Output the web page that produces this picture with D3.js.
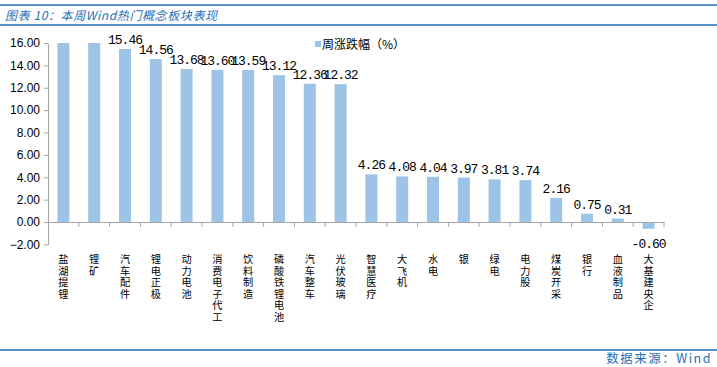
<!DOCTYPE html>
<html><head><meta charset="utf-8">
<script src="https://cdn.jsdelivr.net/npm/d3@7"></script>
<style>body{margin:0;background:#fff}svg{display:block}</style>
</head><body>
<svg id="c" width="717" height="367"></svg>
<script>
const categories = ["盐湖提锂","锂矿","汽车配件","锂电正极","动力电池","消费电子代工","饮料制造","磷酸铁锂电池","汽车整车","光伏玻璃","智慧医疗","大飞机","水电","银","绿电","电力股","煤炭开采","银行","血液制品","大基建央企"];
const values = [22.0, 18.0, 15.46, 14.56, 13.68, 13.60, 13.59, 13.12, 12.36, 12.32, 4.26, 4.08, 4.04, 3.97, 3.81, 3.74, 2.16, 0.75, 0.31, -0.60];
const yTicks = [-2, 0, 2, 4, 6, 8, 10, 12, 14, 16];
const seriesName = "周涨跌幅（%）";
const title = "图表 10：本周Wind热门概念板块表现";
const source = "数据来源：Wind";

const svg = d3.select("#c");
const blue = "#1f6fb9";
const barColor = "#9dc3e6";
const axisColor = "#a6a6a6";
const cjk = "'Noto Sans CJK SC', sans-serif";

// header lines & title
svg.append("line").attr("x1",0).attr("x2",717).attr("y1",5).attr("y2",5).attr("stroke",blue).attr("stroke-width",1.5);
svg.append("line").attr("x1",0).attr("x2",717).attr("y1",25).attr("y2",25).attr("stroke",blue).attr("stroke-width",1.5);
svg.append("text").attr("x",5).attr("y",19.5).text(title)
  .attr("fill",blue).attr("font-family",cjk).attr("font-size",12).attr("font-style","italic")
  .attr("letter-spacing",0.6);
svg.append("line").attr("x1",0).attr("x2",717).attr("y1",350).attr("y2",350).attr("stroke",blue).attr("stroke-width",1.5);
svg.append("text").attr("x",712).attr("y",363).attr("text-anchor","end").text(source)
  .attr("fill",blue).attr("font-family",cjk).attr("font-size",12.5).attr("letter-spacing",1.5);

const x0 = 48, x1 = 664;
const y = d3.scaleLinear().domain([-2,16]).range([244.4,43]).clamp(true);
const xb = d3.scaleBand().domain(categories).range([x0,x1]);

// y axis
const yAxis = d3.axisLeft(y).tickValues(yTicks).tickFormat(d3.format(".2f")).tickSize(4).tickSizeOuter(0);
const ga = svg.append("g").attr("transform",`translate(${x0},0)`).call(yAxis);
ga.select(".domain").attr("stroke",axisColor);
ga.selectAll(".tick line").attr("stroke",axisColor);
ga.selectAll(".tick text").attr("font-family","'Liberation Sans', Arial, sans-serif").attr("font-size",12).attr("fill","#000").attr("x",-8);

// bars
svg.append("g").selectAll("rect").data(values).join("rect")
  .attr("x",(d,i)=>xb(categories[i]) + xb.bandwidth()/2 - 6)
  .attr("width",12)
  .attr("y",d=>Math.min(y(d),y(0)))
  .attr("height",d=>Math.abs(y(d)-y(0)))
  .attr("fill",barColor);

// x axis line at 0 and ticks
const xAxis = d3.axisBottom(xb).tickValues([]).tickSizeOuter(0);
const gx = svg.append("g").attr("transform",`translate(0,${y(0)})`).call(xAxis);
gx.select(".domain").attr("stroke",axisColor);
const bounds = categories.map(c=>xb(c)).concat([x1]).slice(1);
gx.selectAll("line.bt").data(bounds).join("line").attr("class","bt")
  .attr("x1",d=>d).attr("x2",d=>d).attr("y1",0).attr("y2",5).attr("stroke",axisColor);

// data labels
svg.append("g").selectAll("text").data(values.map((v,i)=>({v,i})).filter(d=>d.v<=16)).join("text")
  .attr("x",d=>xb(categories[d.i]) + xb.bandwidth()/2)
  .attr("y",d=> d.v>=0 ? y(d.v)-5 : y(d.v)+19)
  .attr("text-anchor","middle")
  .attr("font-family","'Liberation Mono', 'DejaVu Sans Mono', monospace").attr("font-size",13)
  .attr("letter-spacing",-1)
  .attr("fill","#000")
  .text(d=>d.v.toFixed(2));

// category labels (vertical, one character per line)
const lg = svg.append("g");
categories.forEach((c,i)=>{
  const cx = xb(c) + xb.bandwidth()/2;
  Array.from(c).forEach((ch,k)=>{
    lg.append("text").attr("font-family",cjk).attr("font-size",10.2).attr("fill","#000").attr("text-anchor","middle")
      .attr("x",cx).attr("y",263 + k*11.6).text(ch);
  });
});

// legend
svg.append("rect").attr("x",315).attr("y",41).attr("width",6).attr("height",6).attr("fill",barColor);
svg.append("text").attr("x",322).attr("y",49).text(seriesName).attr("font-family",cjk).attr("font-size",12).attr("fill","#000");
</script>
</body></html>
